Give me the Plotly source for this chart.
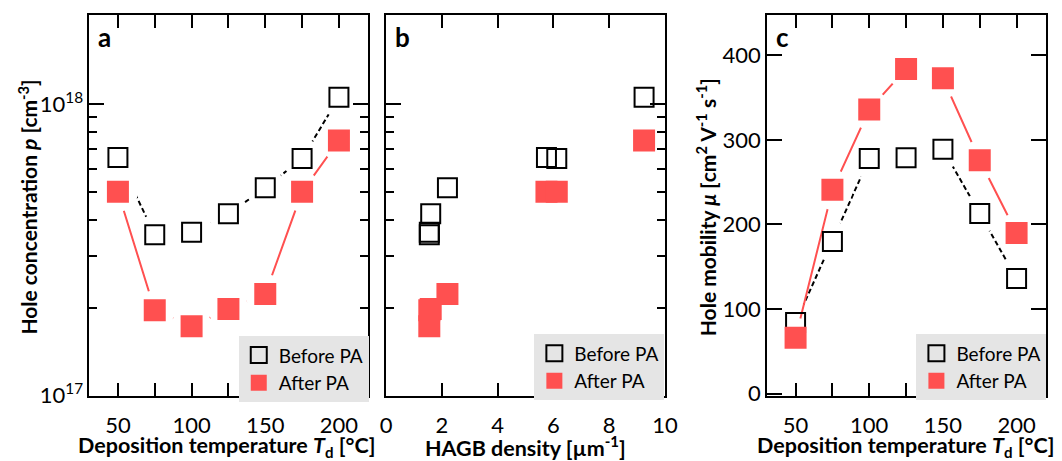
import plotly.graph_objects as go

# ---------------- data ----------------
temps = [50, 75, 100, 125, 150, 175, 200]
p_before = [6.55e17, 3.56e17, 3.63e17, 4.2e17, 5.16e17, 6.5e17, 1.055e18]
p_after = [5.0e17, 1.96e17, 1.73e17, 1.98e17, 2.23e17, 5.0e17, 7.5e17]
hagb = [5.75, 1.55, 1.55, 1.6, 2.2, 6.12, 9.25]
mu_before = [84, 180, 278, 279, 289, 213, 136]
mu_after = [66, 241, 336, 384, 373, 276, 190]

temp_ticks = [50, 75, 100, 125, 150, 175, 200]
temp_ticktext = ["50", "", "100", "", "150", "", "200"]
hagb_ticks = [0, 2, 4, 6, 8, 10]
p_major = [1e17, 1e18]
p_major_text = ["10<sup>17</sup>", "10<sup>18</sup>"]
p_minor = [2e17, 3e17, 4e17, 5e17, 6e17, 7e17, 8e17, 9e17]
mu_ticks = [0, 100, 200, 300, 400]

RED = "#ff5050"
FONT = "Lato"
W, H = 1062, 461

fig = go.Figure()


def add_series(xs, ys, xa, ya, legend, with_lines):
    # black line + backing, red line + backing, then markers
    if with_lines:
        fig.add_trace(go.Scatter(x=xs, y=ys[0], mode="lines", xaxis=xa, yaxis=ya,
                                 line=dict(color="black", width=2, dash="5px,3px"),
                                 showlegend=False, hoverinfo="skip"))
        fig.add_trace(go.Scatter(x=xs, y=ys[0], mode="markers", xaxis=xa, yaxis=ya,
                                 marker=dict(symbol="circle", size=40, color="white", line=dict(width=0)),
                                 showlegend=False, hoverinfo="skip"))
        fig.add_trace(go.Scatter(x=xs, y=ys[1], mode="lines", xaxis=xa, yaxis=ya,
                                 line=dict(color=RED, width=2),
                                 showlegend=False, hoverinfo="skip"))
        fig.add_trace(go.Scatter(x=xs, y=ys[1], mode="markers", xaxis=xa, yaxis=ya,
                                 marker=dict(symbol="circle", size=40, color="white", line=dict(width=0)),
                                 showlegend=False, hoverinfo="skip"))
    fig.add_trace(go.Scatter(x=xs, y=ys[0], mode="markers", xaxis=xa, yaxis=ya, name="Before PA",
                             marker=dict(symbol="square-open", size=19, color="black", line=dict(width=2, color="black")),
                             legend=legend))
    fig.add_trace(go.Scatter(x=xs, y=ys[1], mode="markers", xaxis=xa, yaxis=ya, name="After PA",
                             marker=dict(symbol="square", size=22, color=RED, line=dict(width=0)),
                             legend=legend))


add_series(temps, [p_before, p_after], "x", "y", "legend", True)
add_series(hagb, [p_before, p_after], "x2", "y2", "legend2", False)
add_series(temps, [mu_before, mu_after], "x3", "y3", "legend3", True)

# empty traces so the label-only overlay axes get drawn
for xa, ya in [("x4", "y"), ("x5", "y2"), ("x6", "y3")]:
    fig.add_trace(go.Scatter(x=[None], y=[None], mode="markers", xaxis=xa, yaxis=ya,
                             showlegend=False, hoverinfo="skip"))

ytop = 1 - 15 / H
ybot = 1 - 407 / H
dom_a = [85 / W, 369 / W]
dom_b = [387 / W, 671 / W]
dom_c = [775 / W, 1059 / W]
TICKFONT = dict(family=FONT, size=22, color="black")

axis_common = dict(showline=True, linewidth=2, linecolor="black", mirror="ticks",
                   ticks="inside", tickwidth=2, tickcolor="black", showgrid=False, zeroline=False,
                   tickfont=TICKFONT)
label_axis = dict(showline=False, showgrid=False, zeroline=False, ticks="outside", ticklen=10,
                  tickcolor="rgba(0,0,0,0)", tickfont=TICKFONT)

fig.update_layout(
    width=W, height=H, margin=dict(l=0, r=0, t=0, b=0),
    paper_bgcolor="white", plot_bgcolor="white",
    font=dict(family=FONT, color="black"),
    xaxis=dict(domain=dom_a, range=[30.7, 220], tickvals=temp_ticks, showticklabels=False,
               ticklen=13, anchor="y", **axis_common),
    yaxis=dict(domain=[ybot, ytop], type="log", range=[17, 18.307], tickvals=p_major, ticktext=p_major_text,
               ticklen=15, anchor="x",
               minor=dict(tickvals=p_minor, ticks="inside", ticklen=8, tickwidth=2, tickcolor="black"),
               **axis_common),
    xaxis2=dict(domain=dom_b, range=[0, 10], tickvals=hagb_ticks, showticklabels=False, ticklen=13,
                anchor="y2", **axis_common),
    yaxis2=dict(domain=[ybot, ytop], type="log", range=[17, 18.307], tickvals=p_major, showticklabels=False,
                ticklen=15, anchor="x2",
                minor=dict(tickvals=p_minor, ticks="inside", ticklen=8, tickwidth=2, tickcolor="black"),
                **axis_common),
    xaxis3=dict(domain=dom_c, range=[30.7, 220], tickvals=temp_ticks, showticklabels=False,
                ticklen=13, anchor="y3", **axis_common),
    yaxis3=dict(domain=[ybot, ytop], range=[-2.3, 448.3], tickvals=mu_ticks, ticklen=15, anchor="x3",
                **axis_common),
    xaxis4=dict(domain=dom_a, overlaying="x", anchor="y", range=[30.7, 220], tickvals=temp_ticks,
                ticktext=temp_ticktext, **label_axis),
    xaxis5=dict(domain=dom_b, overlaying="x2", anchor="y2", range=[0, 10], tickvals=hagb_ticks, **label_axis),
    xaxis6=dict(domain=dom_c, overlaying="x3", anchor="y3", range=[30.7, 220], tickvals=temp_ticks,
                ticktext=temp_ticktext, **label_axis),
)

leg_common = dict(xanchor="left", yanchor="top", bgcolor="#e5e5e5", borderwidth=0,
                  font=dict(family=FONT, size=19, color="black"), tracegroupgap=0, itemwidth=30)
fig.update_layout(
    legend=dict(x=237 / W, y=1 - 346 / H, **leg_common),
    legend2=dict(x=538 / W, y=1 - 344 / H, **leg_common),
    legend3=dict(x=927 / W, y=1 - 344 / H, **leg_common),
)

xt_font = dict(family=FONT, size=21.5, color="black")
yt_font = dict(family=FONT, size=21, color="black")
xtitles = [
    dict(text="<b>Deposition temperature <i>T</i><sub>d</sub> [°C]</b>", x=225 / W),
    dict(text="<b>HAGB density [µm<sup>-1</sup>]</b>", x=529 / W),
    dict(text="<b>Deposition temperature <i>T</i><sub>d</sub> [°C]</b>", x=916 / W),
]
for a in xtitles:
    fig.add_annotation(xref="paper", yref="paper", showarrow=False, xanchor="center", yanchor="bottom",
                       y=-15 / H, font=xt_font, **a)
ytitles = [
    dict(text="<b>Hole concentration <i>p</i> [cm<sup>-3</sup>]</b>", x=22 / W),
    dict(text="<b>Hole mobility <i>μ</i> [cm<sup>2</sup> V<sup>-1</sup> s<sup>-1</sup>]</b>", x=713 / W),
]
for a in ytitles:
    fig.add_annotation(xref="paper", yref="paper", showarrow=False, xanchor="center", yanchor="middle",
                       y=1 - 213 / H, textangle=-90, font=yt_font, **a)

for letter, xpx in [("a", 92), ("b", 394), ("c", 782)]:
    fig.add_annotation(text=f"<b>{letter}</b>", xref="paper", yref="paper", x=xpx / W, y=1 - 38 / H,
                       xanchor="left", yanchor="middle", showarrow=False,
                       font=dict(family=FONT, size=26, color="black"))

fig.write_html("out.html")
